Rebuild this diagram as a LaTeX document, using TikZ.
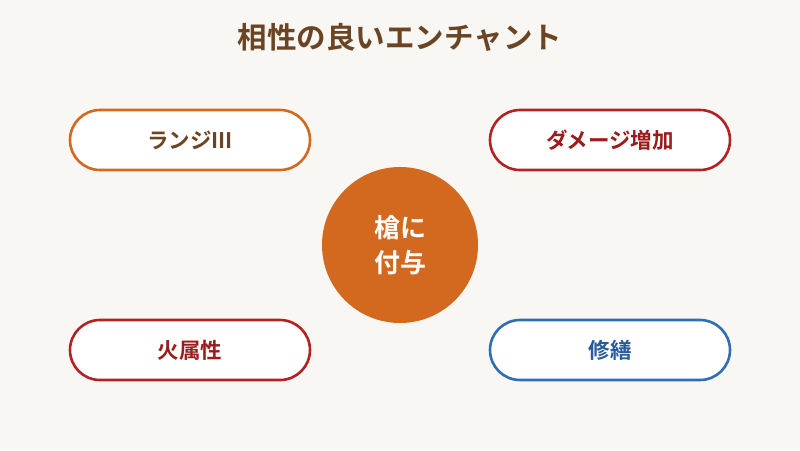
\documentclass[tikz,border=0pt]{standalone}
\usepackage{fontspec}
\setmainfont{Noto Sans CJK JP}[BoldFont={* Bold}]
\definecolor{bg}{HTML}{F9F7F4}
\definecolor{orng}{HTML}{D2691E}
\definecolor{brn}{HTML}{6B4423}
\definecolor{redb}{HTML}{B22222}
\definecolor{redt}{HTML}{9B1C1C}
\definecolor{blub}{HTML}{2F6DB5}
\definecolor{blut}{HTML}{2B5A9A}
\tikzset{
  pill/.style={draw=#1, line width=2.6pt, fill=white, rounded corners=30pt,
    minimum width=240pt, minimum height=60pt, inner sep=0pt,
    font=\fontsize{21.5pt}{24pt}\selectfont\bfseries},
}
\begin{document}
\begin{tikzpicture}[x=1pt,y=-1pt]
\path[fill=bg] (0,0) rectangle (800,450);
\useasboundingbox (0,0) rectangle (800,450);
\node[text=brn, font=\fontsize{29.5pt}{32pt}\selectfont\bfseries] (title) at (400,37) {相性の良いエンチャント};
\node[circle, fill=orng, minimum size=156pt, inner sep=0pt, text=white, align=center,
  font=\fontsize{26pt}{35pt}\selectfont\bfseries] (hub) at (400,245) {槍に\\付与};
\node[pill=orng, text=brn] (a) at (190,140) {ランジIII};
\node[pill=redb, text=redt] (b) at (610,140) {ダメージ増加};
\node[pill=redb, text=redt] (c) at (190,350) {火属性};
\node[pill=blub, text=blut] (d) at (610,350) {修繕};
\end{tikzpicture}
\end{document}
